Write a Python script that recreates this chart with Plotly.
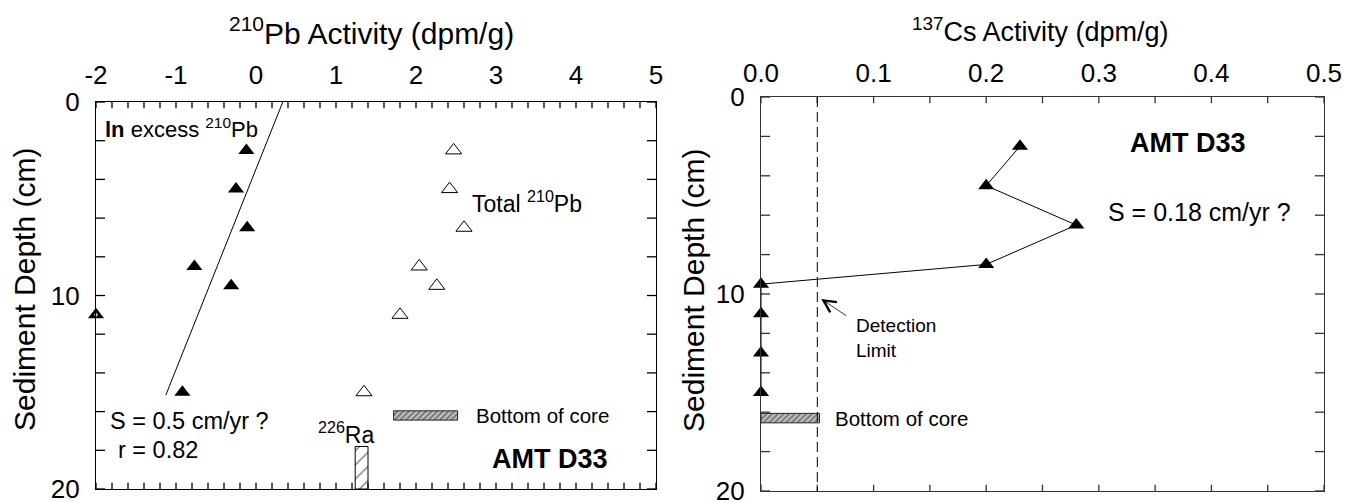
import numpy as np
import plotly.graph_objects as go

# ---------------- data ----------------
# 210Pb profile (depth in cm, activity in dpm/g)
pb_depth = [2.5, 4.5, 6.5, 8.5, 9.5, 11.0, 15.0]
pb_total = [2.47, 2.42, 2.60, 2.04, 2.26, 1.80, 1.35]

# ln of excess 210Pb (points used in the regression)
ln_excess_depth = [2.5, 4.5, 6.5, 8.5, 9.5, 15.0]
ln_excess = [-0.12, -0.25, -0.11, -0.77, -0.31, -0.92]
# sample with no measurable excess, plotted on the left axis
ln_offscale_depth = [11.0]
ln_offscale = [-2.0]

# supported 226Ra (activity +/- spread) measured at the base
ra226_activity = 1.32
ra226_spread = 0.08
ra226_top_depth = 17.8
max_depth = 20.0

# bottom of the core (depth, thickness) and the activity span of its marker
core_bottom_pb = 16.2
core_bottom_cs = 16.3
core_bar_thick = 0.48
core_bar_pb_span = [1.72, 2.52]
core_bar_cs_span = [0.0, 0.052]

# 137Cs profile
cs_depth = [2.5, 4.5, 6.5, 8.5, 9.5, 11.0, 13.0, 15.0]
cs_activity = [0.23, 0.20, 0.28, 0.20, 0.0, 0.0, 0.0, 0.0]
cs_detection_limit = 0.05

# axis tick labels
pb_tick_labels = ["-2", "-1", "0", "1", "2", "3", "4", "5"]
cs_tick_labels = ["0.0", "0.1", "0.2", "0.3", "0.4", "0.5"]
depth_tick_labels = ["0", "10", "20"]

# regression of depth on ln(excess 210Pb)
fit_depth_range = [0.0, 15.15]
slope, intercept = np.polyfit(ln_excess, ln_excess_depth, 1)
fit_depth = np.array(fit_depth_range)
fit_ln = (fit_depth - intercept) / slope


def tick_marks(labels, steps_between):
    """Tick positions at the labelled values and the steps between them."""
    vals = [float(v) for v in labels]
    step = (vals[1] - vals[0]) / steps_between
    n = int(round((vals[-1] - vals[0]) / step))
    return [round(vals[0] + i * step, 6) for i in range(n + 1)]


FONT = "Liberation Sans, Arial, sans-serif"
W, H = 1346, 502
pb_range = [-2.0, 5.0]
cs_range = [0.0, 0.5]
depth_range = [max_depth, 0.0]
tick_depth_len = 0.32   # length of the activity-axis ticks, in cm of depth

fig = go.Figure()


def frame_ticks(xa, ya, xticks, yticks, xr, color):
    """Short inside tick marks on all four edges of a panel."""
    # activity ticks: short vertical segments hanging from top and bottom
    seg_x, seg_y = [], []
    for xv in xticks:
        seg_x += [xv, xv, None, xv, xv, None]
        seg_y += [0.0, tick_depth_len, None,
                  max_depth, max_depth - tick_depth_len, None]
    fig.add_trace(go.Scatter(
        x=seg_x, y=seg_y, mode="lines", line=dict(color=color, width=1.3),
        xaxis=xa, yaxis=ya, cliponaxis=True, connectgaps=False,
        showlegend=False, hoverinfo="skip"))
    # depth ticks: clipped line markers on the left and right edges
    for xv in xr:
        fig.add_trace(go.Scatter(
            x=[xv] * len(yticks), y=yticks, mode="markers",
            marker=dict(symbol="line-ew", size=13, color=color,
                        line=dict(width=1.3, color=color)),
            xaxis=xa, yaxis=ya, cliponaxis=True,
            showlegend=False, hoverinfo="skip"))


depth_ticks = tick_marks(depth_tick_labels, 5)
frame_ticks("x", "y", tick_marks(pb_tick_labels, 5), depth_ticks,
            pb_range, "black")
frame_ticks("x2", "y2", tick_marks(cs_tick_labels, 2), depth_ticks,
            cs_range, "#333")

# ---- left panel: 210Pb ----
fig.add_trace(go.Scatter(
    x=fit_ln, y=fit_depth, mode="lines",
    line=dict(color="black", width=1), xaxis="x", yaxis="y",
    showlegend=False, hoverinfo="skip"))
fig.add_trace(go.Scatter(
    x=ln_excess, y=ln_excess_depth, mode="markers",
    marker=dict(symbol="triangle-up", size=14, color="black"),
    xaxis="x", yaxis="y", cliponaxis=False, showlegend=False))
fig.add_trace(go.Scatter(
    x=ln_offscale, y=ln_offscale_depth, mode="markers",
    marker=dict(symbol="triangle-up", size=14, color="black"),
    xaxis="x", yaxis="y", cliponaxis=False, showlegend=False))
fig.add_trace(go.Scatter(
    x=ln_offscale, y=ln_offscale_depth, mode="markers",
    marker=dict(symbol="cross-thin", size=3,
                line=dict(color="white", width=1)),
    xaxis="x", yaxis="y", cliponaxis=False, showlegend=False))
fig.add_trace(go.Scatter(
    x=pb_total, y=pb_depth, mode="markers",
    marker=dict(symbol="triangle-up-open", size=14, color="black",
                line=dict(width=1)),
    xaxis="x", yaxis="y", cliponaxis=False, showlegend=False))

# 226Ra bar
fig.add_trace(go.Bar(
    x=[ra226_activity], y=[max_depth - ra226_top_depth], base=[ra226_top_depth],
    width=[2 * ra226_spread], xaxis="x", yaxis="y",
    marker=dict(color="white", line=dict(color="black", width=1),
                pattern=dict(shape="/", fgcolor="black", bgcolor="white",
                             size=10, solidity=0.15)),
    showlegend=False))

# bottom-of-core markers
core_marker = dict(color="#b0b0b0", line=dict(color="#222", width=1),
                   pattern=dict(shape="/", fgcolor="#1a1a1a", bgcolor="#c0c0c0",
                                size=4, solidity=0.4))
fig.add_trace(go.Bar(
    orientation="h", y=[core_bottom_pb],
    x=[core_bar_pb_span[1] - core_bar_pb_span[0]], base=[core_bar_pb_span[0]],
    width=[core_bar_thick], xaxis="x", yaxis="y",
    marker=core_marker, showlegend=False))
fig.add_trace(go.Bar(
    orientation="h", y=[core_bottom_cs],
    x=[core_bar_cs_span[1] - core_bar_cs_span[0]], base=[core_bar_cs_span[0]],
    width=[core_bar_thick], xaxis="x2", yaxis="y2",
    marker=core_marker, showlegend=False))

# ---- right panel: 137Cs ----
fig.add_trace(go.Scatter(
    x=cs_activity, y=cs_depth, mode="lines+markers",
    line=dict(color="black", width=1),
    marker=dict(symbol="triangle-up", size=14, color="black"),
    xaxis="x2", yaxis="y2", cliponaxis=False, showlegend=False))

# detection limit
fig.add_shape(type="line", xref="x2", yref="y2",
              x0=cs_detection_limit, x1=cs_detection_limit, y0=0, y1=max_depth,
              line=dict(color="black", width=1, dash="10px,5px"))

tickfont = dict(family=FONT, size=26, color="black")
axis_common = dict(showline=True, mirror=True, linewidth=1.3, ticks="",
                   showgrid=False, zeroline=False, tickfont=tickfont,
                   tickmode="array", automargin=False,
                   ticklabeloverflow="allow")

fig.update_layout(
    width=W, height=H,
    margin=dict(l=0, r=0, t=0, b=0, pad=0),
    paper_bgcolor="white", plot_bgcolor="white",
    barmode="overlay",
    font=dict(family=FONT, color="black"),
    xaxis=dict(domain=[96 / W, 656 / W], anchor="y", range=pb_range,
               side="top", tickvals=[float(v) for v in pb_tick_labels],
               ticktext=pb_tick_labels, ticklabelstandoff=6,
               linecolor="black", **axis_common),
    yaxis=dict(domain=[1 - 489 / H, 1 - 102 / H], anchor="x",
               range=depth_range,
               tickvals=[float(v) for v in depth_tick_labels],
               ticktext=depth_tick_labels, ticklabelstandoff=10,
               linecolor="black", **axis_common),
    xaxis2=dict(domain=[761 / W, 1324 / W], anchor="y2", range=cs_range,
                side="top", tickvals=[float(v) for v in cs_tick_labels],
                ticktext=cs_tick_labels, ticklabelstandoff=3,
                linecolor="#333", **axis_common),
    yaxis2=dict(domain=[1 - 491 / H, 1 - 97 / H], anchor="x2",
                range=depth_range,
                tickvals=[float(v) for v in depth_tick_labels],
                ticktext=depth_tick_labels, ticklabelstandoff=10,
                linecolor="#333", **axis_common),
)


def label(text, x, y, size, xref="x", yref="y", xanchor="left", **kw):
    fig.add_annotation(text=text, x=x, y=y, xref=xref, yref=yref,
                       xanchor=xanchor, yanchor="middle", showarrow=False,
                       font=dict(family=FONT, size=size, color="black"), **kw)


# axis titles
label("<sup>210</sup>Pb Activity (dpm/g)", 371 / W, 1 - 31 / H, 30,
      xref="paper", yref="paper", xanchor="center")
label("<sup>137</sup>Cs Activity (dpm/g)", 1040 / W, 1 - 30 / H, 27,
      xref="paper", yref="paper", xanchor="center")
label("Sediment Depth (cm)", 24 / W, 1 - 290 / H, 30,
      xref="paper", yref="paper", xanchor="center", textangle=-90)
label("Sediment Depth (cm)", 693 / W, 1 - 290 / H, 30,
      xref="paper", yref="paper", xanchor="center", textangle=-90)

# left panel labels
label("<b>ln</b> excess <sup>210</sup>Pb", -1.91, 1.34, 22)
label("Total <sup>210</sup>Pb", 2.67, 5.15, 23)
label("S = 0.5 cm/yr ?", -1.85, 16.5, 23.5)
label("r = 0.82", -1.75, 18.0, 23.5)
label("<sup>226</sup>Ra", ra226_activity - 0.2, 17.1, 23, xanchor="center")
label("Bottom of core", 2.72, core_bottom_pb, 20.5)
label("<b>AMT D33</b>", 2.92, 18.45, 27)

# right panel labels
label("<b>AMT D33</b>", 0.326, 2.33, 27, xref="x2", yref="y2")
label("S = 0.18 cm/yr ?", 0.306, 5.84, 25, xref="x2", yref="y2")
label("Detection<br>Limit", 0.083, 12.25, 19, xref="x2", yref="y2",
      align="left")
label("Bottom of core", 0.064, core_bottom_cs, 20.5, xref="x2", yref="y2")

# arrow pointing at the detection limit
fig.add_annotation(x=0.0535, y=10.25, ax=0.077, ay=11.15,
                   xref="x2", yref="y2", axref="x2", ayref="y2",
                   showarrow=True, arrowhead=5, arrowsize=3, arrowwidth=0.8,
                   arrowcolor="black", text="")

fig.write_html(
    "out.html",
    post_script="document.body.style.margin='0';"
                "document.body.style.overflow='hidden';")
